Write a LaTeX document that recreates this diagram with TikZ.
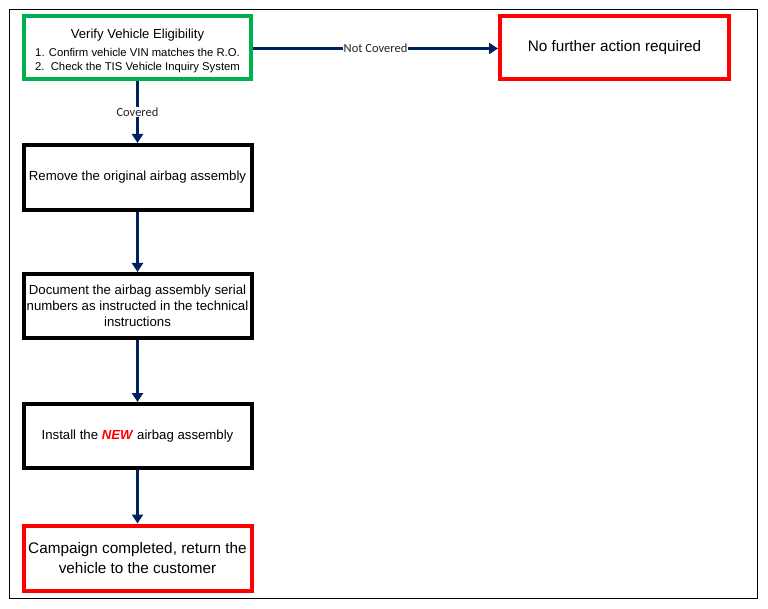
\documentclass[tikz,border=0pt]{standalone}
\usepackage{fontspec}
\setmainfont{Liberation Sans}
\newfontfamily\calfont{Carlito}
\usetikzlibrary{arrows.meta}
\definecolor{navyc}{RGB}{0,32,96}
\definecolor{greenc}{RGB}{0,176,80}
\definecolor{redc}{RGB}{255,0,0}
\tikzset{
  box/.style={draw=black, line width=4pt, fill=white, minimum width=228pt, minimum height=65pt, inner sep=0pt, align=center, font=\fontsize{13.2}{16}\selectfont},
  greenbox/.style={box, draw=greenc, minimum width=227pt, minimum height=63pt},
  redbox/.style={box, draw=redc},
  conn/.style={draw=navyc, line width=3pt, -{Triangle[length=9pt,width=11pt]}},
  lbl/.style={fill=white, inner sep=0.5pt, font=\calfont\fontsize{12.5}{14}\selectfont, text=black!85}
}
\begin{document}
\begin{tikzpicture}[x=1pt,y=-1pt]
\useasboundingbox (0,0) rectangle (768,609);
\draw[line width=1pt, black] (9.5,9.5) rectangle (757.5,598);

\node[greenbox, font=\fontsize{11.3}{14}\selectfont] (verify) at (137.5,47.5)
  {\rule{0pt}{3pt}\\[-1pt]{\fontsize{13.1}{14}\selectfont Verify Vehicle Eligibility}\\[4pt]
   1. Confirm vehicle VIN matches the R.O.\\
   2.\ \ Check the TIS Vehicle Inquiry System};
\node[redbox, minimum width=229pt, minimum height=63pt, font=\fontsize{15.3}{18}\selectfont] (nofurther) at (614.5,47.5) {No further action required};
\node[box] (remove) at (137.5,177.5) {Remove the original airbag assembly};
\node[box, minimum height=64pt] (document) at (137.5,306) {Document the airbag assembly serial\\numbers as instructed in the technical\\instructions};
\node[box, minimum height=64pt] (install) at (137.5,436) {Install the \textcolor{redc}{\textbf{\textit{NEW}}} airbag assembly};
\node[redbox, font=\fontsize{15.3}{19.5}\selectfont] (campaign) at (137.5,558) {Campaign completed, return the\\vehicle to the customer};

\draw[conn] ([yshift=-1pt]verify.east) -- node[lbl] {Not Covered} ([yshift=-1pt]nofurther.west);
\draw[conn] (verify.south) -- node[lbl] {Covered} (remove.north);
\draw[conn] (remove.south) -- (document.north);
\draw[conn] (document.south) -- (install.north);
\draw[conn] (install.south) -- (campaign.north);
\end{tikzpicture}
\end{document}
